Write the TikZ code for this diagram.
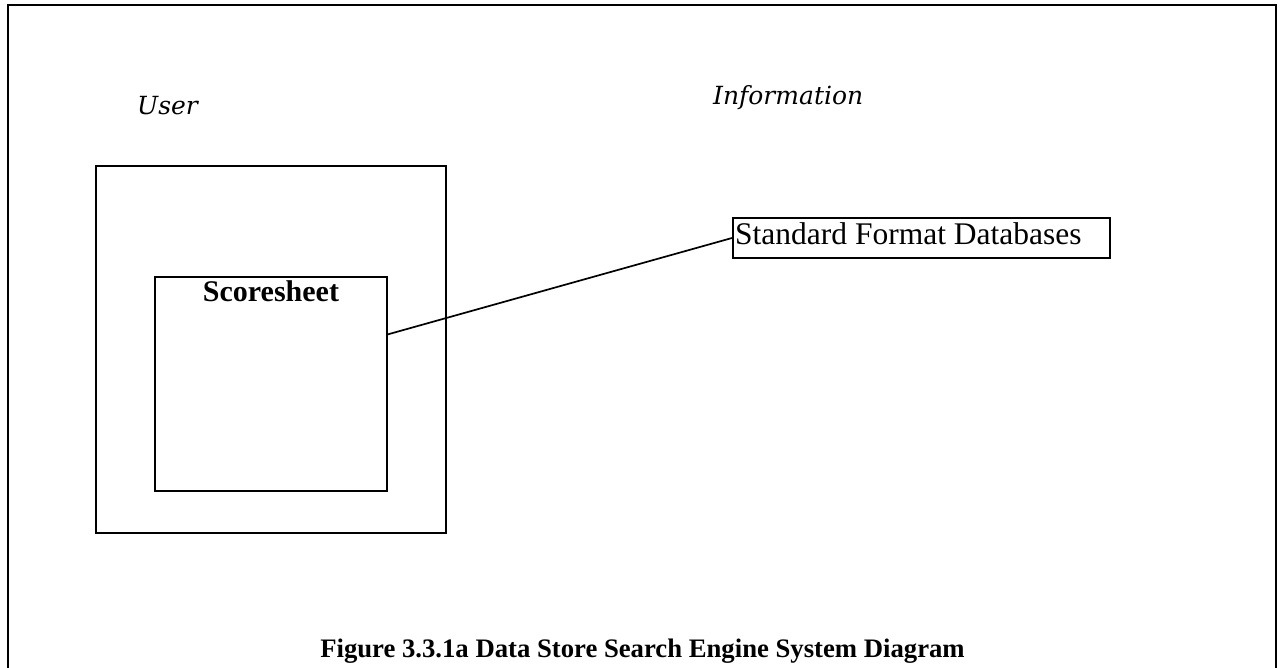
\documentclass[tikz,border=0pt]{standalone}
\usepackage{fontspec}
\setmainfont{Liberation Serif}
\newfontfamily\headfont{DejaVu Serif}
\usetikzlibrary{calc}
\tikzset{
  box/.style={draw, line width=2pt, rectangle, inner sep=0pt},
  head/.style={inner sep=0pt, anchor=base west, font=\headfont\itshape\fontsize{25}{29}\selectfont},
  link/.style={line width=1.7pt}
}
\begin{document}
\begin{tikzpicture}[x=1pt, y=-1pt]
  \useasboundingbox (0,0) rectangle (1280,668);
  % page frame, open at the bottom
  \draw[line width=2.2pt] (8,672) -- (8,5) -- (1276,5) -- (1276,672);

  % column headings
  \node[head] (user) at (137,115) {User};
  \node[head] (info) at (713,105) {Information};

  % user side
  \node[box, minimum width=350pt, minimum height=367pt] (ub) at (271,349.5) {};
  \node[box, minimum width=232pt, minimum height=214pt] (ss) at (271,384) {};
  \node[inner sep=0pt, font=\bfseries\fontsize{30}{34}\selectfont, anchor=base] (sstext) at ($(ss.north)+(0,26)$) {Scoresheet};

  % information side
  \node[box, minimum width=377pt, minimum height=40pt] (db) at (921.5,238) {};
  \node[inner sep=0pt, font=\fontsize{31.5}{36}\selectfont, anchor=base west] (dbtext) at ($(db.west)+(3,7)$) {Standard Format Databases};

  % connection
  \draw[link] (ss.23.7) -- (db.west);

  % caption
  \node[inner sep=0pt, anchor=base, font=\bfseries\fontsize{26.7}{31}\selectfont] (cap) at (642.5,657)
    {Figure 3.3.1a Data Store Search Engine System Diagram};
\end{tikzpicture}
\end{document}
